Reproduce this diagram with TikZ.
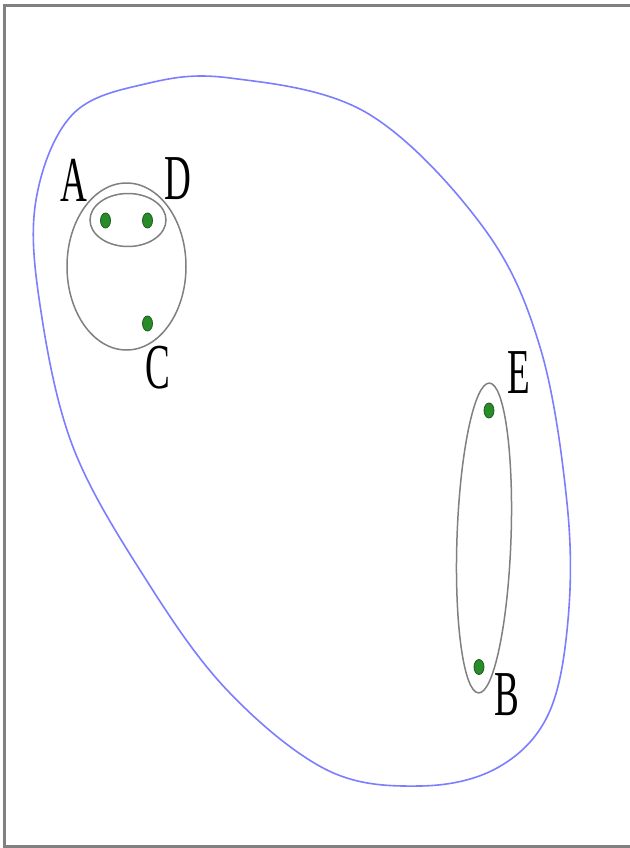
\documentclass[tikz,border=0pt]{standalone}
\usepackage{fontspec}
\setmainfont{Liberation Serif}
\usetikzlibrary{shapes.geometric}
\definecolor{dotgreen}{RGB}{40,140,40}
\definecolor{dotedge}{RGB}{30,90,30}
\definecolor{curveblue}{RGB}{125,125,255}
\begin{document}
\begin{tikzpicture}[x=1pt,y=-1pt,
  dot/.style={ellipse,fill=dotgreen,draw=dotedge,line width=0.8pt,inner sep=0pt,minimum width=10pt,minimum height=15pt},
  lbl/.style={inner sep=0pt,font=\fontsize{64}{64}\selectfont},
  set/.style={draw={rgb,255:red,128;green,128;blue,128},line width=1.5pt},
  frame/.style={draw={rgb,255:red,128;green,128;blue,128},line width=3pt}]
\useasboundingbox (0,0) rectangle (629,848);
\fill[white] (0,0) rectangle (629,848);
\draw[frame] (700,5.5) -- (4.5,5.5) -- (4.5,846.5) -- (700,846.5);
% blue enclosing curve
\draw[curveblue,line width=1.6pt] plot[smooth cycle,tension=0.6] coordinates {
 (230,78) (367,113) (483,227) (540,347) (567,503) (568,620) (548,715)
 (497,768) (420,786) (327,770) (227,690) (145,578) (73,447) (40,305)
 (36,200) (72,115) (145,84)};
% gray sets
\draw[set] (126.5,266.5) ellipse [x radius=59.5, y radius=83.5];
\draw[set] (128,220) ellipse [x radius=38, y radius=26.5];
\draw[set,rotate around={-2:(484,538)}] (484,538) ellipse [x radius=27, y radius=155];
% points
\node[dot] (a) at (105.5,220.5) {};
\node[dot] (d) at (147.5,220.5) {};
\node[dot] (c) at (147.5,323.5) {};
\node[dot] (e) at (489,410.5) {};
\node[dot] (b) at (479,667) {};
% labels
\node[lbl] (la) at (73.5,180) {\scalebox{0.58}[1]{A}};
\node[lbl] (ld) at (178,179) {\scalebox{0.58}[1]{D}};
\node[lbl] (lc) at (158,368) {\scalebox{0.58}[1]{C}};
\node[lbl] (le) at (519,373) {\scalebox{0.58}[1]{E}};
\node[lbl] (lb) at (507,695) {\scalebox{0.58}[1]{B}};
\end{tikzpicture}
\end{document}
